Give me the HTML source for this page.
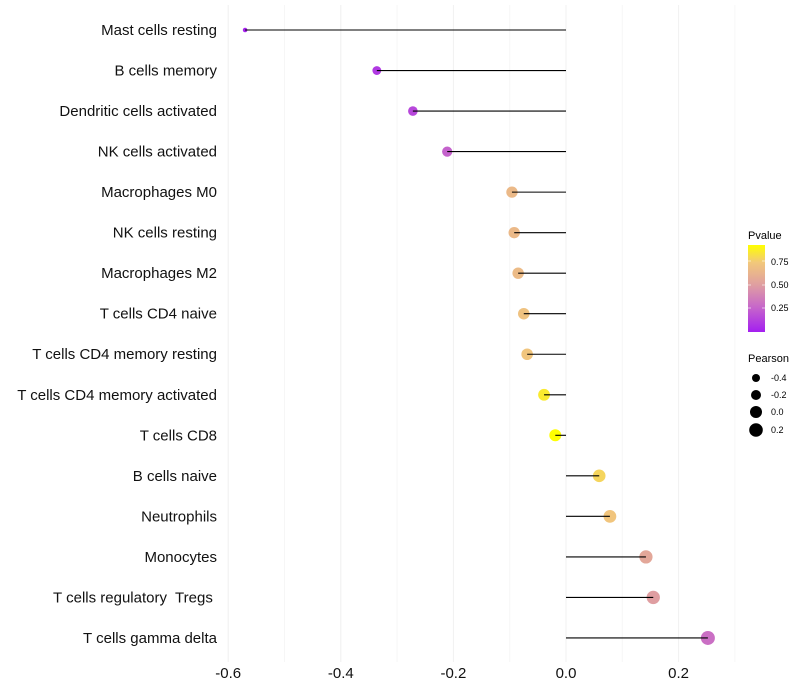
<!DOCTYPE html>
<html><head><meta charset="utf-8"><style>
body{margin:0;background:#fff;font-family:"Liberation Sans",sans-serif}
svg{display:block}
text{white-space:pre}
</style></head><body>
<svg id="chart" width="800" height="700" xmlns="http://www.w3.org/2000/svg">
<defs><linearGradient id="pg" x1="0" y1="1" x2="0" y2="0">
<stop offset="0" stop-color="#a41ff0"/><stop offset="0.3" stop-color="#c86ac8"/><stop offset="0.55" stop-color="#e0a0a0"/><stop offset="0.8" stop-color="#f2c87a"/><stop offset="1" stop-color="#ffff00"/></linearGradient></defs>
<g id="grid"></g><g id="marks"></g><g id="labels"></g>
<g>
<text x="748" y="239" font-size="11">Pvalue</text>
<rect x="748" y="245" width="17" height="87" fill="url(#pg)"/>
<line x1="748" x2="751" y1="261" y2="261" stroke="#fff" stroke-opacity="0.6"/><line x1="762" x2="765" y1="261" y2="261" stroke="#fff" stroke-opacity="0.6"/>
<line x1="748" x2="751" y1="285" y2="285" stroke="#fff" stroke-opacity="0.6"/><line x1="762" x2="765" y1="285" y2="285" stroke="#fff" stroke-opacity="0.6"/>
<line x1="748" x2="751" y1="308" y2="308" stroke="#fff" stroke-opacity="0.6"/><line x1="762" x2="765" y1="308" y2="308" stroke="#fff" stroke-opacity="0.6"/>
<text x="771" y="265" font-size="9">0.75</text><text x="771" y="288" font-size="9">0.50</text><text x="771" y="311" font-size="9">0.25</text>
</g>
<g>
<text x="748" y="362" font-size="11">Pearson</text>
<circle cx="756" cy="378" r="4"/><text x="771" y="381" font-size="9">-0.4</text>
<circle cx="756" cy="395" r="5"/><text x="771" y="398" font-size="9">-0.2</text>
<circle cx="756" cy="412" r="6"/><text x="771" y="415" font-size="9">0.0</text>
<circle cx="756" cy="430" r="6.8"/><text x="771" y="433" font-size="9">0.2</text>
</g>
</svg>
<script>
const categories=["Mast cells resting","B cells memory","Dendritic cells activated","NK cells activated","Macrophages M0","NK cells resting","Macrophages M2","T cells CD4 naive","T cells CD4 memory resting","T cells CD4 memory activated","T cells CD8","B cells naive","Neutrophils","Monocytes","T cells regulatory  Tregs ","T cells gamma delta"];
const pearson=[-0.570,-0.336,-0.272,-0.211,-0.096,-0.092,-0.085,-0.075,-0.069,-0.039,-0.019,0.059,0.078,0.142,0.155,0.252];
const pvalue=[0.02,0.1,0.15,0.25,0.65,0.65,0.66,0.7,0.72,0.85,0.97,0.78,0.72,0.55,0.5,0.3];
const xTicks=[-0.6,-0.4,-0.2,0.0,0.2];
const xTickLabels=["-0.6","-0.4","-0.2","0.0","0.2"];
const NS="http://www.w3.org/2000/svg";
const x=v=>566+v*563;
const y=i=>30+i*40.53;
function mk(t,a,p){const e=document.createElementNS(NS,t);for(const k in a)e.setAttribute(k,a[k]);p.appendChild(e);return e;}
const stops=[[0,[164,31,240]],[0.3,[200,106,200]],[0.55,[224,160,160]],[0.8,[242,200,122]],[1,[255,255,0]]];
function col(p){const t=Math.max(0,Math.min(1,(p-0.005)/0.915));for(let i=1;i<stops.length;i++){if(t<=stops[i][0]){const a=stops[i-1],b=stops[i];const f=(t-a[0])/(b[0]-a[0]);return "rgb("+a[1].map((c,j)=>Math.round(c+(b[1][j]-c)*f)).join(",")+")";}}return "rgb(255,255,0)";}
const grid=document.getElementById('grid'),marks=document.getElementById('marks'),labels=document.getElementById('labels');
for(let v=-0.6;v<=0.31;v+=0.1){
const g=mk('line',{x1:x(v),x2:x(v),y1:5,y2:662,stroke:Math.abs(Math.round(v*10))%2===0?'#f0f0f0':'#f6f6f6','stroke-width':1},grid);


}
xTicks.forEach((v,i)=>{const t=mk('text',{x:x(v),y:678,'font-size':15,'text-anchor':'middle',fill:'#111'},labels);t.textContent=xTickLabels[i];

});
categories.forEach((c,i)=>{
const t=mk('text',{x:217,y:y(i)+5,'font-size':15,'text-anchor':'end',fill:'#111'},labels);t.textContent=c;


const r=1.2+5.8*Math.sqrt(Math.max(0.005,(pearson[i]+0.6)/0.85));
const pt=mk('circle',{cx:x(pearson[i]),cy:y(i),r:r,fill:col(pvalue[i])},marks);


const l=mk('line',{x1:x(0),x2:x(pearson[i]),y1:y(i),y2:y(i),stroke:'#000','stroke-width':1.1},marks);


});
</script>
</body></html>
